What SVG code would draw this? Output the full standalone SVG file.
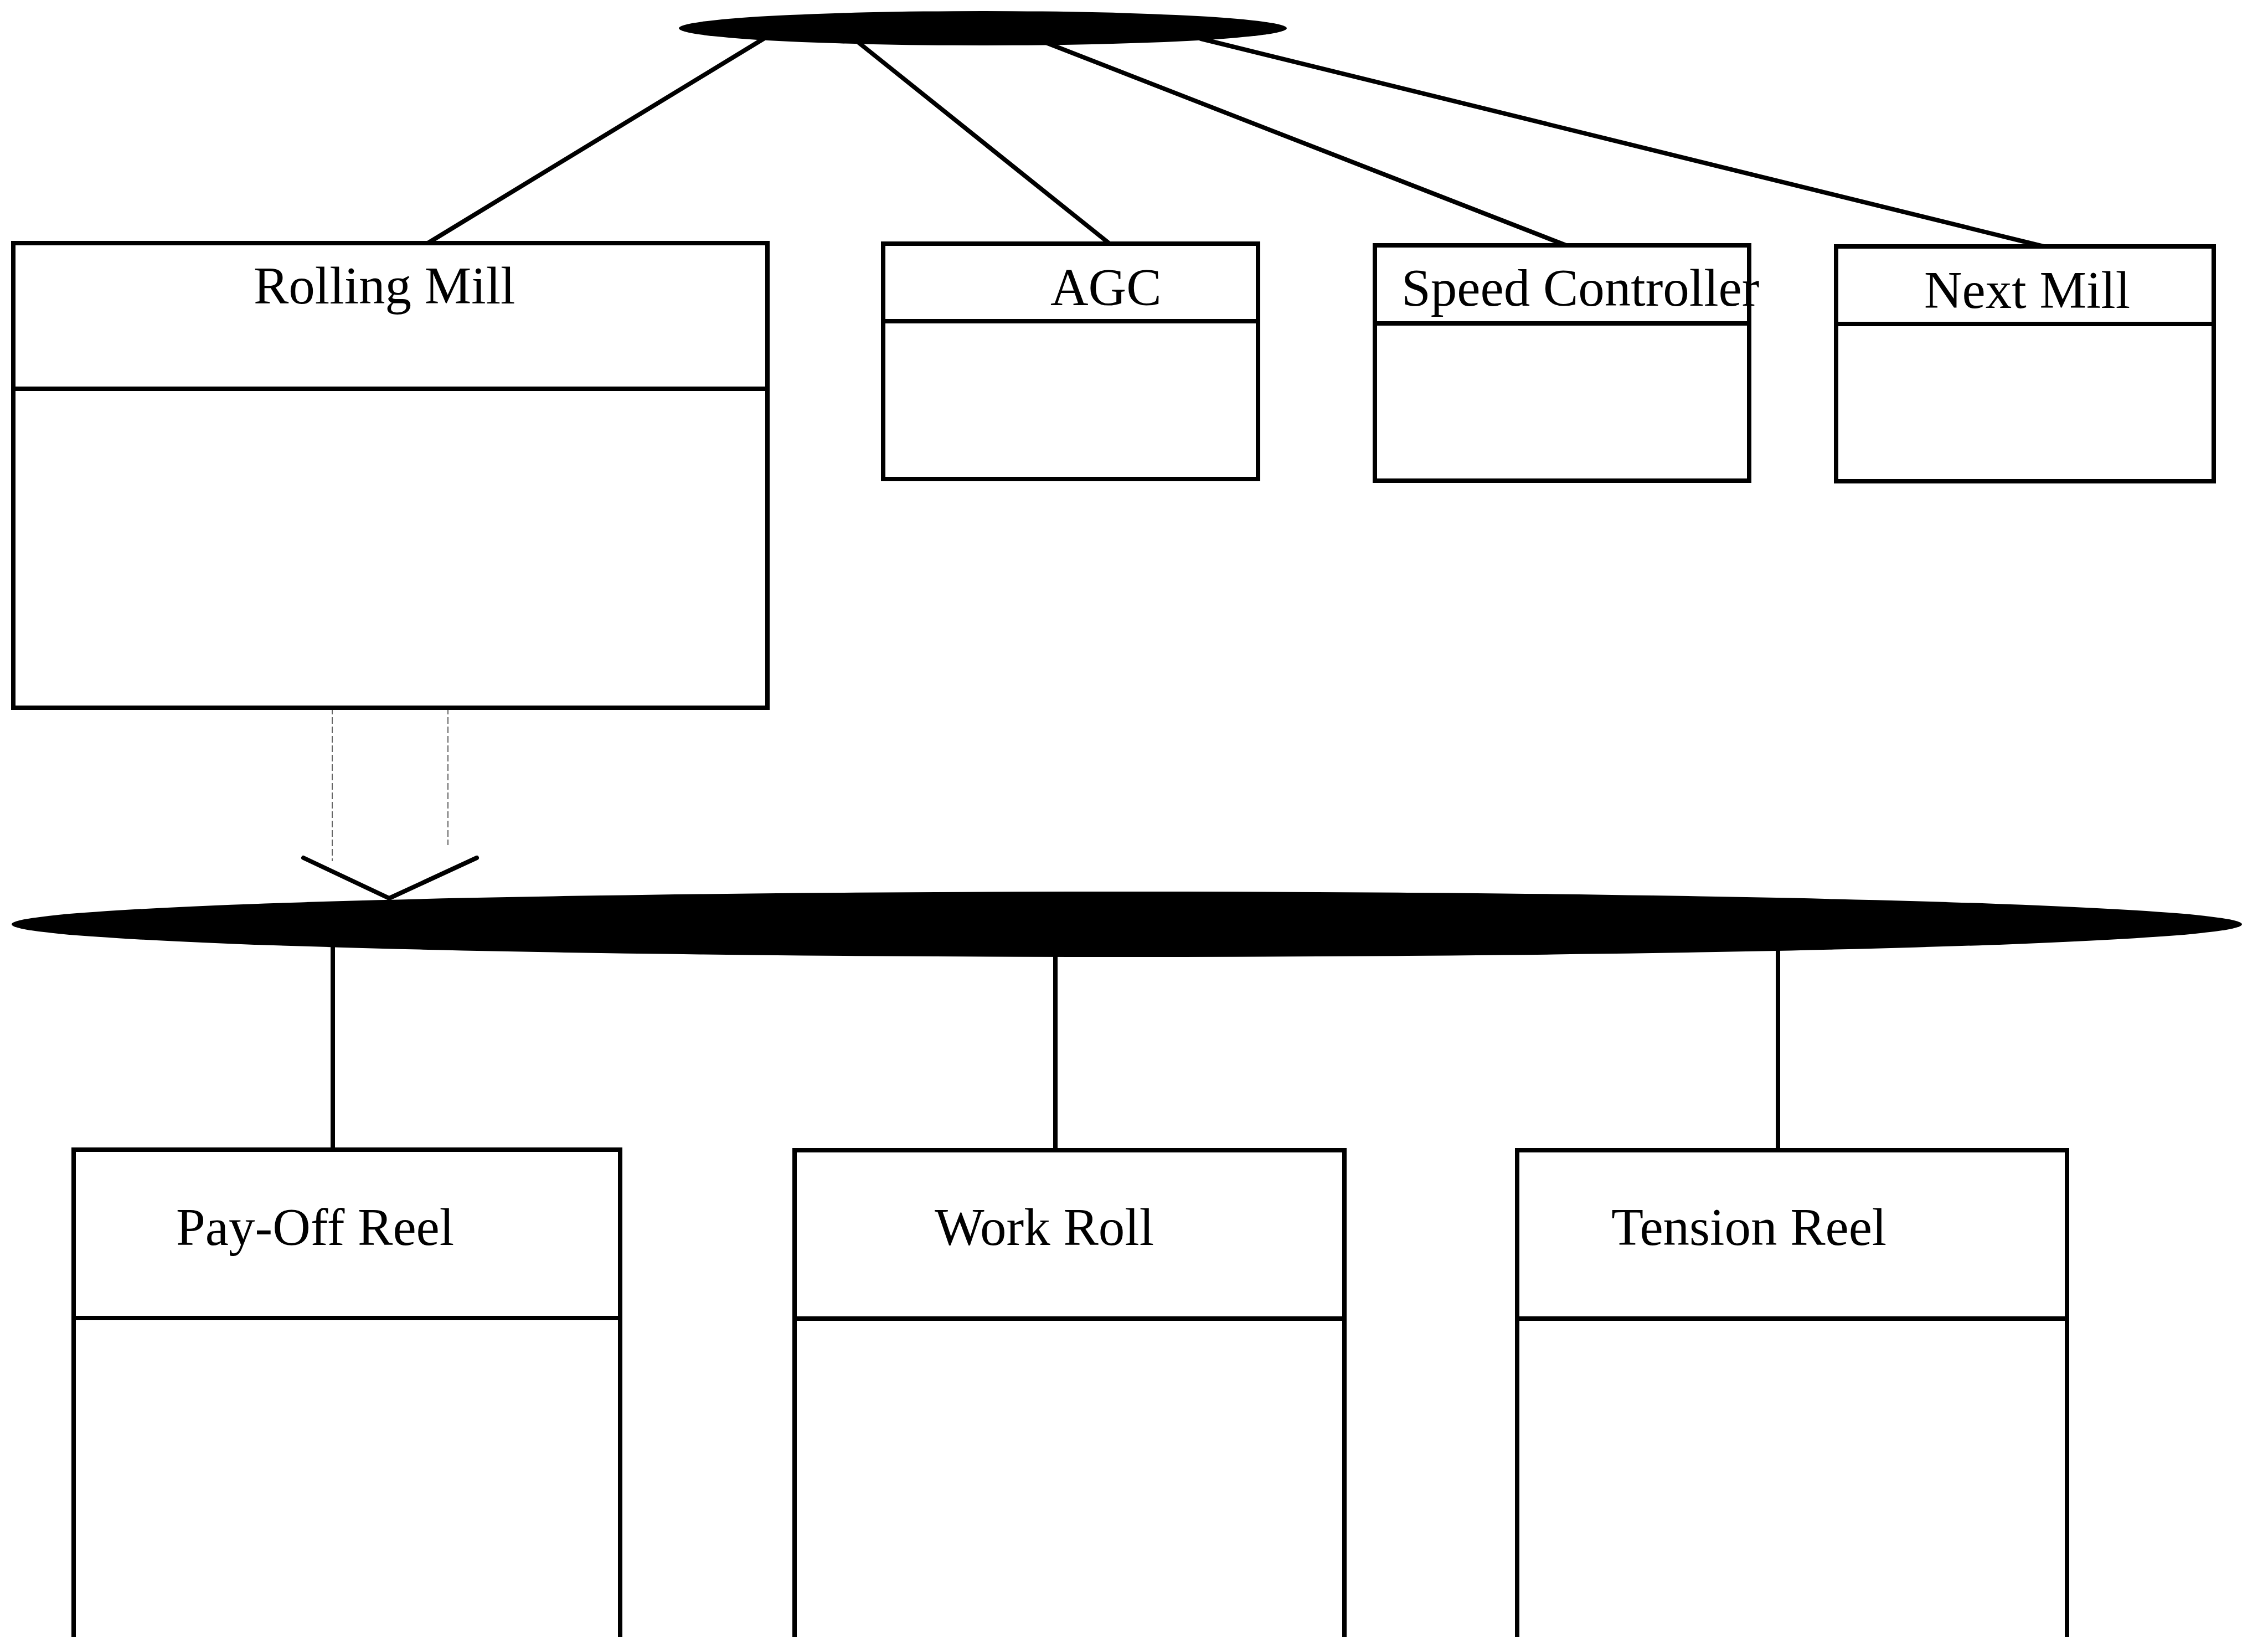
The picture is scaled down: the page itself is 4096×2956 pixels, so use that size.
<svg xmlns="http://www.w3.org/2000/svg" width="4096" height="2956" viewBox="0 0 4096 2956">
  <style>
    .box { fill: #ffffff; stroke: #000000; stroke-width: 8; }
    .div { stroke: #000000; stroke-width: 8; }
    .bus { fill: #000000; stroke: none; }
    .link { stroke: #000000; stroke-width: 8; fill: none; stroke-linecap: round; }
    .dep { stroke: #666666; stroke-width: 2; fill: none; stroke-dasharray: 12 5; }
    .label { font-family: "Liberation Serif", "Times New Roman", serif; font-size: 95px; fill: #000000; }
  </style>
  <rect width="4096" height="2956" fill="#ffffff"/>

  <!-- connectors: bus links, dependency and its open head -->
  <g id="connectors">
    <line class="link" x1="1379" y1="70" x2="771" y2="440"/>
    <line class="link" x1="1542" y1="70" x2="2004" y2="440"/>
    <line class="link" x1="1871" y1="70" x2="2831" y2="444"/>
    <line class="link" x1="2169" y1="70" x2="3695" y2="446"/>
    <line class="link" x1="601" y1="1680" x2="601" y2="2076"/>
    <line class="link" x1="1906" y1="1690" x2="1906" y2="2077"/>
    <line class="link" x1="3211" y1="1690" x2="3211" y2="2077"/>
    <line class="dep" x1="600" y1="1278" x2="600" y2="1555"/>
    <line class="dep" x1="809" y1="1278" x2="809" y2="1526"/>
    <polyline class="link" points="548,1549 703,1622 861,1549"/>
  </g>

  <!-- upper bus -->
  <g id="bus-top">
    <ellipse class="bus" cx="1775" cy="51" rx="549" ry="31"/>
  </g>

  <!-- lower bus -->
  <g id="bus-bottom">
    <ellipse class="bus" cx="2035" cy="1669" rx="2014" ry="59"/>
  </g>

  <g id="rolling-mill">
    <rect class="box" x="24" y="439" width="1362" height="839"/>
    <line class="div" x1="24" y1="702" x2="1386" y2="702"/>
    <text class="label" x="458" y="548">Rolling Mill</text>
  </g>

  <g id="agc">
    <rect class="box" x="1595" y="440" width="677" height="425"/>
    <line class="div" x1="1595" y1="580" x2="2272" y2="580"/>
    <text class="label" x="1897" y="551">AGC</text>
  </g>

  <g id="speed-controller">
    <rect class="box" x="2483" y="443" width="676" height="425"/>
    <line class="div" x1="2483" y1="584" x2="3159" y2="584"/>
    <text class="label" x="2531" y="552">Speed Controller</text>
  </g>

  <g id="next-mill">
    <rect class="box" x="3316" y="445" width="682" height="424"/>
    <line class="div" x1="3316" y1="585" x2="3998" y2="585"/>
    <text class="label" x="3475" y="556">Next Mill</text>
  </g>

  <g id="pay-off-reel">
    <rect class="box" x="133" y="2076" width="987" height="1000"/>
    <line class="div" x1="133" y1="2380" x2="1120" y2="2380"/>
    <text class="label" x="318" y="2248">Pay-Off Reel</text>
  </g>

  <g id="work-roll">
    <rect class="box" x="1435" y="2077" width="993" height="1000"/>
    <line class="div" x1="1435" y1="2381" x2="2428" y2="2381"/>
    <text class="label" x="1688" y="2248">Work Roll</text>
  </g>

  <g id="tension-reel">
    <rect class="box" x="2740" y="2077" width="993" height="1000"/>
    <line class="div" x1="2740" y1="2381" x2="3733" y2="2381"/>
    <text class="label" x="2910" y="2248">Tension Reel</text>
  </g>
</svg>
